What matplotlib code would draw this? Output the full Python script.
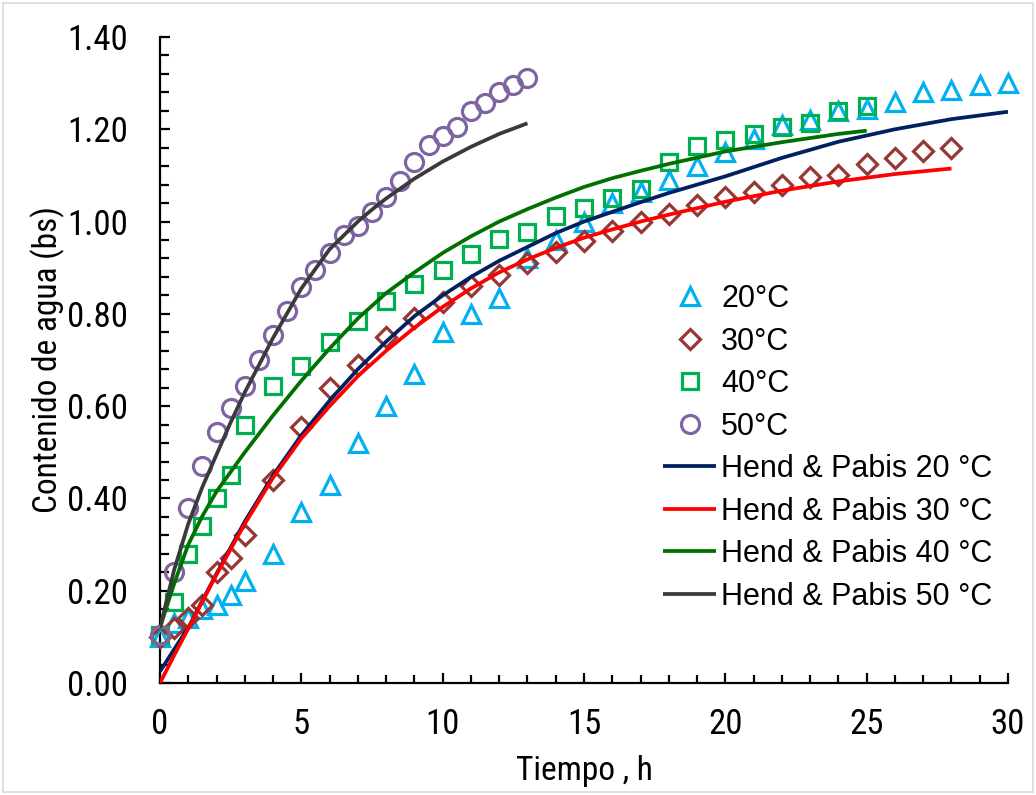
import matplotlib
matplotlib.use("Agg")
import matplotlib.pyplot as plt
from matplotlib import font_manager
from matplotlib.ticker import MultipleLocator, FormatStrFormatter
from matplotlib.patches import Rectangle

# ---------------- data ----------------
t20 = [0, 0.5, 1, 1.5, 2, 2.5, 3, 4, 5, 6, 7, 8, 9, 10, 11, 12, 13, 14, 15, 16, 17,
       18, 19, 20, 21, 22, 23, 24, 25, 26, 27, 28, 29, 30]
m20 = [0.10, 0.13, 0.14, 0.16, 0.17, 0.19, 0.22, 0.28, 0.37, 0.43, 0.52, 0.60, 0.67,
       0.76, 0.80, 0.835, 0.92, 0.96, 1.00, 1.04, 1.065, 1.09, 1.12, 1.15, 1.18, 1.21,
       1.22, 1.24, 1.245, 1.26, 1.28, 1.285, 1.295, 1.30]

t30 = [0, 0.5, 1, 1.5, 2, 2.5, 3, 4, 5, 6, 7, 8, 9, 10, 11, 12, 13, 14, 15, 16, 17,
       18, 19, 20, 21, 22, 23, 24, 25, 26, 27, 28]
m30 = [0.10, 0.12, 0.14, 0.17, 0.24, 0.27, 0.32, 0.44, 0.555, 0.64, 0.69, 0.75, 0.79,
       0.825, 0.86, 0.885, 0.91, 0.935, 0.958, 0.98, 1.0, 1.017, 1.035, 1.054, 1.065,
       1.08, 1.097, 1.10, 1.124, 1.137, 1.152, 1.16]

t40 = [0, 0.5, 1, 1.5, 2, 2.5, 3, 4, 5, 6, 7, 8, 9, 10, 11, 12, 13, 14, 15, 16, 17,
       18, 19, 20, 21, 22, 23, 24, 25]
m40 = [0.104, 0.176, 0.28, 0.34, 0.40, 0.45, 0.56, 0.644, 0.687, 0.74, 0.785, 0.828,
       0.865, 0.894, 0.93, 0.963, 0.978, 1.013, 1.03, 1.05, 1.07, 1.13, 1.163, 1.176,
       1.19, 1.206, 1.213, 1.24, 1.25]

t50 = [0, 0.5, 1, 1.5, 2, 2.5, 3, 3.5, 4, 4.5, 5, 5.5, 6, 6.5, 7, 7.5, 8, 8.5, 9,
       9.5, 10, 10.5, 11, 11.5, 12, 12.5, 13]
m50 = [0.104, 0.24, 0.38, 0.47, 0.545, 0.595, 0.643, 0.70, 0.754, 0.806, 0.859, 0.894,
       0.932, 0.97, 0.99, 1.02, 1.054, 1.087, 1.13, 1.165, 1.185, 1.205, 1.24, 1.257,
       1.28, 1.296, 1.311]

# Henderson & Pabis model curves
th20 = [0, 0.5, 1, 2, 3, 4, 5, 6, 7, 8, 9, 10, 11, 12, 13, 14, 15, 16, 17, 18, 20,
        22, 24, 26, 28, 30]
mh20 = [0.025, 0.073, 0.12, 0.237, 0.35, 0.45, 0.537, 0.612, 0.68, 0.74, 0.795, 0.84,
        0.88, 0.915, 0.945, 0.975, 1.0, 1.021, 1.042, 1.062, 1.098, 1.138, 1.173, 1.200,
        1.222, 1.238]

th30 = [0, 0.5, 1, 2, 3, 4, 5, 6, 7, 8, 9, 10, 11, 12, 13, 14, 15, 16, 17, 18, 20,
        22, 24, 26, 28]
mh30 = [0.0, 0.06, 0.118, 0.235, 0.345, 0.445, 0.53, 0.60, 0.665, 0.72, 0.77, 0.815,
        0.855, 0.89, 0.918, 0.943, 0.965, 0.983, 1.0, 1.015, 1.043, 1.067, 1.087,
        1.103, 1.115]

th40 = [0, 0.5, 1, 1.5, 2, 3, 4, 5, 6, 7, 8, 9, 10, 11, 12, 13, 14, 15, 16, 17, 18,
        20, 22, 24, 25]
mh40 = [0.12, 0.215, 0.30, 0.362, 0.415, 0.50, 0.58, 0.655, 0.725, 0.79, 0.845, 0.89,
        0.932, 0.968, 1.0, 1.027, 1.052, 1.075, 1.094, 1.11, 1.125, 1.152, 1.172, 1.19,
        1.197]

th50 = [0, 0.5, 1, 1.5, 2, 2.5, 3, 4, 5, 6, 7, 7.5, 8, 9, 10, 11, 12, 13]
mh50 = [0.12, 0.245, 0.345, 0.425, 0.495, 0.565, 0.63, 0.748, 0.855, 0.94, 1.0, 1.026,
        1.05, 1.093, 1.13, 1.162, 1.19, 1.213]

series_labels = ["20°C", "30°C", "40°C", "50°C"]
model_labels = ["Hend & Pabis 20 °C", "Hend & Pabis 30 °C",
                "Hend & Pabis 40 °C", "Hend & Pabis 50 °C"]

# ---------------- fonts ----------------
avail = {f.name for f in font_manager.fontManager.ttflist}
narrow = "Roboto Condensed" if "Roboto Condensed" in avail else "Liberation Sans"
regular = "Liberation Sans"
plt.rcParams['font.family'] = [regular, 'DejaVu Sans']

# ---------------- figure ----------------
fig = plt.figure(figsize=(10.36, 7.95), dpi=100)
W, H = 1036, 795
ax = fig.add_axes([160 / W, 1 - 683 / H, 848 / W, 646 / H])

mk = dict(linestyle='none', markerfacecolor='none', clip_on=False, zorder=3)
ax.plot(t20, m20, marker='^', markersize=13, markeredgewidth=2.3,
        markeredgecolor='#00B0F0', label=series_labels[0], **mk)
ax.plot(t30, m30, marker='D', markersize=9.8, markeredgewidth=2.3,
        markeredgecolor='#953735', label=series_labels[1], **mk)
ax.plot(t40, m40, marker='s', markersize=12, markeredgewidth=2.3,
        markeredgecolor='#00B050', label=series_labels[2], **mk)
ax.plot(t50, m50, marker='o', markersize=13, markeredgewidth=2.3,
        markeredgecolor='#8064A2', label=series_labels[3], **mk)

lk = dict(lw=2.7, solid_capstyle='butt', solid_joinstyle='round')
ax.plot(th20, mh20, color='#002060', label=model_labels[0], zorder=4, **lk)
ax.plot(th30, mh30, color='#FF0000', label=model_labels[1], zorder=5, **lk)
ax.plot(th40, mh40, color='#007000', label=model_labels[2], zorder=4, **lk)
ax.plot(th50, mh50, color='#3A3A3A', label=model_labels[3], zorder=4, **lk)

ax.set_xlim(0, 30)
ax.set_ylim(0, 1.40)
ax.xaxis.set_major_locator(MultipleLocator(5))
ax.xaxis.set_minor_locator(MultipleLocator(1))
ax.yaxis.set_major_locator(MultipleLocator(0.2))
ax.yaxis.set_minor_locator(MultipleLocator(0.04))
ax.yaxis.set_major_formatter(FormatStrFormatter('%.2f'))

for s in ['top', 'right']:
    ax.spines[s].set_visible(False)
for s in ['left', 'bottom']:
    ax.spines[s].set_linewidth(1.6)
    ax.spines[s].set_color('black')

ax.tick_params(axis='both', which='both', direction='in', color='black', width=1.6)
ax.tick_params(axis='x', which='major', length=7.5, pad=18)
ax.tick_params(axis='x', which='minor', length=5.5)
ax.tick_params(axis='y', which='major', length=7, pad=23)
ax.tick_params(axis='y', which='minor', length=6.5)

for lab in ax.get_xticklabels() + ax.get_yticklabels():
    lab.set_fontfamily(narrow)
    lab.set_fontsize(25)

ax.set_xlabel("Tiempo , h", fontfamily=narrow, fontsize=24)
ax.xaxis.set_label_coords(0.5, -0.112)
ax.set_ylabel("Contenido de agua (bs)", fontfamily=narrow, fontsize=24)
ax.yaxis.set_label_coords(-0.112, 0.5)

leg = ax.legend(loc='upper left', bbox_to_anchor=((663 - 160) / 848, (683 - 284) / 646),
                frameon=False, numpoints=1, handlelength=1.75, handletextpad=0.15,
                labelspacing=0.41, borderpad=0, borderaxespad=0,
                prop={'family': regular, 'size': 22})

fig.add_artist(Rectangle((3 / W, 3 / H), 1 - 6 / W, 1 - 6 / H, transform=fig.transFigure,
                         fill=False, edgecolor='#D9D9D9', lw=1.2))

fig.savefig("out.png", dpi=100)
